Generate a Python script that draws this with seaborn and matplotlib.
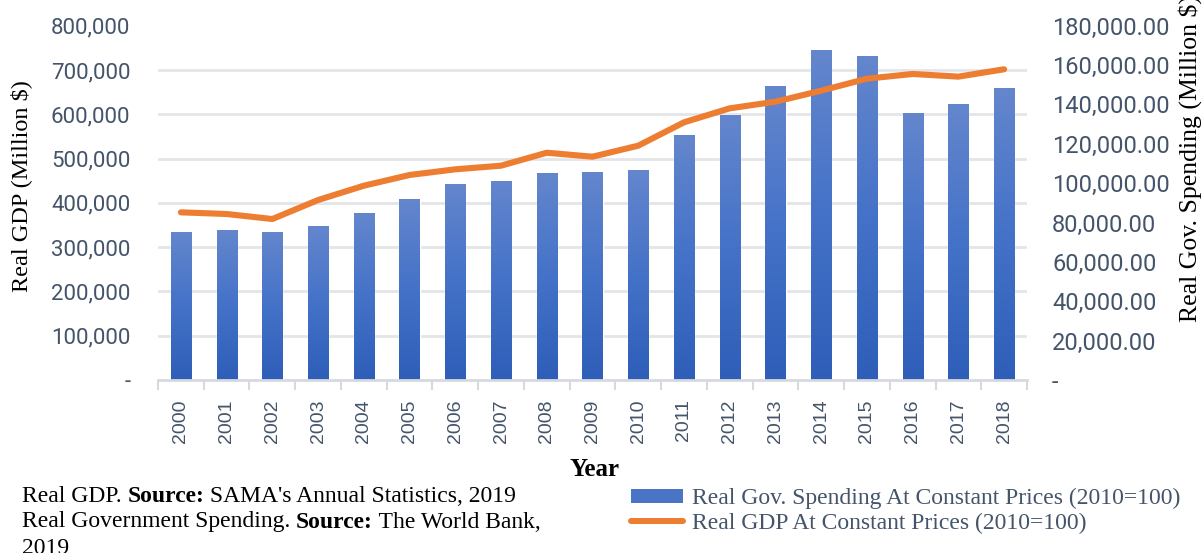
import numpy as np
import pandas as pd
import matplotlib
matplotlib.use("Agg")
import matplotlib.pyplot as plt
from matplotlib.ticker import FixedLocator, FuncFormatter, MultipleLocator
from matplotlib.colors import LinearSegmentedColormap
from matplotlib.lines import Line2D
from matplotlib.patches import Patch
import seaborn as sns

# ---- data -------------------------------------------------------------
years = [str(y) for y in range(2000, 2019)]
gov_spending = [75000, 76200, 75000, 78100, 84800, 91800, 99600, 100900, 105000,
                105500, 106500, 124300, 134600, 149200, 167500, 164500, 135500,
                140000, 148200]
real_gdp = [378600, 374800, 363500, 406400, 438700, 462900, 475700, 483900, 513200,
            504200, 529100, 581800, 613400, 628400, 653300, 680400, 691000, 685000,
            701600]

bar_label = "Real Gov. Spending At Constant Prices (2010=100)"
line_label = "Real GDP At Constant Prices (2010=100)"

df = pd.DataFrame({"year": years, "spending": gov_spending, "gdp": real_gdp})

# ---- style ------------------------------------------------------------
sns.set_theme(style="white")
plt.rcParams["font.family"] = ["Liberation Sans", "DejaVu Sans"]

TICK_COLOR = "#44546A"
GRID_COLOR = "#E3E5E9"
BAR_TOP = "#6486CD"
BAR_BOTTOM = "#2E5EB8"
LINE_COLOR = "#ED7D31"
SERIF = "Liberation Serif"

W, H = 1204, 553
fig = plt.figure(figsize=(W / 100, H / 100), dpi=100)
ax = fig.add_axes([158 / W, 1 - 380 / H, (1027 - 158) / W, (380 - 25.7) / H])

# bars: government spending (right-hand scale)
sns.barplot(data=df, x="year", y="spending", ax=ax, color=BAR_BOTTOM,
            width=0.44, saturation=1, zorder=2)

grad = LinearSegmentedColormap.from_list("bar_grad", [BAR_BOTTOM, "#4472C8", BAR_TOP])
gvals = np.linspace(0, 1, 256).reshape(-1, 1)
for p in list(ax.patches):
    x0, w, h = p.get_x(), p.get_width(), p.get_height()
    im = ax.imshow(gvals, cmap=grad, origin="lower", aspect="auto",
                   extent=[x0, x0 + w, 0, h], zorder=2.5, interpolation="bilinear")
    im.set_clip_path(p)

ax.set_xlim(-0.5, len(years) - 0.5)
ax.set_ylim(0, 180000)

# line: real GDP (left-hand scale)
ax2 = ax.twinx()
sns.lineplot(x=np.arange(len(years)), y=df["gdp"], ax=ax2, color=LINE_COLOR,
             linewidth=4.4, solid_capstyle="round", solid_joinstyle="round")
ax2.set_ylim(0, 800000)
ax2.set_xlim(-0.5, len(years) - 0.5)

# spending ticks on the right
ax.yaxis.tick_right()
ax.yaxis.set_major_locator(MultipleLocator(20000))
ax.yaxis.set_major_formatter(FuncFormatter(lambda v, _: "-" if v == 0 else f"{v:,.2f}"))
# gridlines follow the GDP scale (every 100,000 of 800,000)
ax.yaxis.set_minor_locator(FixedLocator(np.linspace(0, 180000, 9)))
ax.grid(False)
ax.grid(which="minor", axis="y", color=GRID_COLOR, linewidth=2, zorder=0)
ax.set_axisbelow(True)
ax.tick_params(axis="y", which="both", left=False, right=False, length=0)
ax.tick_params(axis="y", which="major", pad=18, labelsize=17, labelcolor=TICK_COLOR,
               labelright=True, labelleft=False, labelfontfamily="Roboto")

# GDP ticks on the left
ax2.yaxis.tick_left()
ax2.yaxis.set_major_locator(MultipleLocator(100000))
ax2.yaxis.set_major_formatter(FuncFormatter(lambda v, _: "-" if v == 0 else f"{v:,.0f}"))
ax2.tick_params(axis="y", length=0, pad=20, labelsize=16, labelcolor=TICK_COLOR,
                labelleft=True, labelright=False, labelfontfamily="Roboto")
ax2.grid(False)
ax2.set_ylabel("")
for s in ax2.spines.values():
    s.set_visible(False)

# x axis: year labels, tick marks between categories
ax.set_xticks(range(len(years)))
ax.set_xticklabels(years, rotation=90, fontsize=14, color=TICK_COLOR)
ax.xaxis.set_minor_locator(FixedLocator(np.arange(-0.5, len(years), 1)))
ax.tick_params(axis="x", which="major", length=0, pad=14)
ax.tick_params(axis="x", which="minor", bottom=True, length=7, width=1.5,
               color="#D6DAE0", direction="out")
ax.set_xlabel("")
ax.set_ylabel("")

for side in ["top", "left", "right"]:
    ax.spines[side].set_visible(False)
ax.spines["bottom"].set_color("#D6DAE0")
ax.spines["bottom"].set_linewidth(2)

# axis titles
fig.text(21 / W, 1 - 292 / H, "Real GDP (Million $)", rotation=90, ha="center",
         va="bottom", fontsize=17.5, family=SERIF, color="black")
fig.text(1190 / W, 1 - 322 / H, "Real Gov. Spending (Million $)", rotation=90,
         ha="center", va="bottom", fontsize=18.5, family=SERIF, color="black")
fig.text(594 / W, 1 - 470 / H, "Year", ha="center", va="center", fontsize=18,
         family=SERIF, weight="bold", color="black")

# source notes, with bold keyword
renderer = fig.canvas.get_renderer()


def rich_line(x_px, y_px, parts, size=17):
    x = x_px / W
    for txt, bold in parts:
        t = fig.text(x, 1 - y_px / H, txt, ha="left", va="center", fontsize=size,
                     family=SERIF, weight="bold" if bold else "normal", color="black")
        bb = t.get_window_extent(renderer=renderer)
        x = bb.x1 / W


rich_line(22, 497, [("Real GDP. ", False), ("Source:", True),
                    (" SAMA's Annual Statistics, 2019", False)])
rich_line(22, 522, [("Real Government Spending. ", False), ("Source:", True),
                    (" The World Bank,", False)])
rich_line(22, 548, [("2019", False)])

# legend
handles = [Patch(facecolor="#4A74C6", edgecolor="none"),
           Line2D([], [], color=LINE_COLOR, linewidth=4.3, solid_capstyle="round")]
leg = fig.legend(handles, [bar_label, line_label], loc="center left",
                 bbox_to_anchor=(631 / W, 1 - 511 / H), frameon=False,
                 prop={"family": SERIF, "size": 17}, handlelength=2.2,
                 handleheight=0.52, handletextpad=0.4, labelspacing=0.15,
                 borderaxespad=0, borderpad=0)
for t in leg.get_texts():
    t.set_color(TICK_COLOR)

fig.savefig("out.png", dpi=100)
